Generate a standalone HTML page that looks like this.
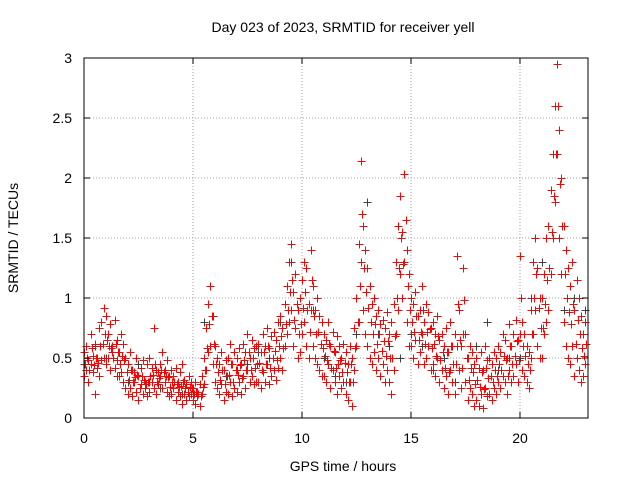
<!DOCTYPE html>
<html><head><meta charset="utf-8"><style>
html,body{margin:0;padding:0;background:#fff}
svg{display:block;font-family:"Liberation Sans",sans-serif}
</style></head><body>
<svg id="chart" width="640" height="480">
<rect x="0" y="0" width="640" height="480" fill="#fff"/>
<g id="grid"></g>
<g id="marks"></g>
<rect x="84" y="58" width="504" height="360" fill="none" stroke="#000" stroke-width="1"/>
<g id="axes"></g>
<text x="343" y="32" font-size="14" text-anchor="middle">Day 023 of 2023, SRMTID for receiver yell</text>
<text x="343" y="471" font-size="14" text-anchor="middle">GPS time / hours</text>
<text x="18" y="238" font-size="14" text-anchor="middle" transform="rotate(-90 18 238)">SRMTID / TECUs</text>
</svg>
<script>
const xTicks=[0,5,10,15,20];
const yTicks=[0,0.5,1,1.5,2,2.5,3];
const yTickLabels=["0","0.5","1","1.5","2","2.5","3"];
const redStep=0.1;
const redA=[.55,.6,.48,.7,.52,.62,.5,.75,.8,.92,.85,.7,.78,.6,.82,.65,.55,.7,.62,.5,.45,.55,.4,.38,.5,.35,.42,.48,.3,.45,.5,.42,.75,.4,.38,.45,.55,.4,.48,.35,.4,.35,.42,.3,.38,.45,.32,.28,.35,.3,.25,.3,.22,.28,.35,.5,.75,.95,1.1,.85,.6,.5,.45,.55,.4,.48,.5,.62,.45,.55,.5,.58,.45,.62,.55,.7,.5,.65,.58,.6,.62,.55,.7,.6,.75,.58,.68,.72,.65,.8,.85,.75,.95,1.1,1.3,1.45,1.05,1.2,.9,1.0,1.15,1.3,1.25,.95,1.4,1.1,.9,1.0,.85,.8,.7,.65,.8,.6,.72,.55,.68,.6,.5,.62,.55,.45,.6,.5,.75,1.0,1.45,2.14,1.6,1.4,1.25,1.1,.95,1.0,.85,.9,.78,.82,.75,.88,.7,.8,.95,1.3,1.6,1.85,1.55,2.03,1.4,1.2,1.0,.95,1.05,.85,.9,1.1,.8,.95,.88,.75,.8,.7,.85,.65,.7,.6,.75,.55,.8,.6,.7,1.35,.9,.6,1.25,.7,.5,.6,.55,.45,.5,.42,.55,.4,.6,.48,.5,.45,.55,.5,.6,.55,.7,.65,.5,.78,.6,.7,.82,.65,1.35,.8,.7,.6,.55,.9,1.3,1.5,1.25,1.0,1.0,1.2,1.5,1.6,1.9,2.2,2.6,2.95,2.4,2.0,1.6,1.4,1.25,1.1,1.3,.9,1.15,1.0,.85,.7,.8];
const redB=[.35,.4,.3,.45,.38,.2,.42,.35,.48,.5,.45,.5,.4,.55,.42,.48,.35,.38,.3,.25,.2,.25,.18,.3,.22,.15,.28,.2,.25,.18,.22,.3,.25,.2,.28,.35,.25,.3,.22,.18,.2,.25,.15,.22,.18,.12,.2,.15,.18,.2,.15,.12,.18,.1,.2,.28,.4,.55,.6,.45,.3,.25,.2,.28,.15,.22,.2,.3,.18,.25,.22,.3,.2,.35,.25,.4,.3,.35,.28,.3,.3,.25,.38,.3,.45,.28,.35,.4,.32,.42,.5,.4,.6,.7,.8,.9,.6,.75,.5,.55,.7,.8,.6,.5,.9,.6,.5,.45,.4,.35,.35,.3,.45,.25,.4,.3,.2,.35,.25,.3,.2,.15,.3,.1,.4,.6,.8,1.3,.9,.7,.6,.5,.45,.55,.4,.5,.35,.45,.3,.4,.3,.2,.4,.7,.9,1.2,1.0,1.3,.8,.6,.6,.5,.65,.45,.55,.7,.45,.5,.6,.4,.45,.35,.5,.3,.4,.25,.35,.2,.4,.3,.2,.6,.4,.25,.7,.3,.15,.25,.2,.1,.15,.1,.2,.08,.25,.18,.2,.15,.25,.2,.3,.25,.35,.3,.2,.4,.3,.35,.45,.3,.7,.4,.35,.3,.25,.5,.7,.9,.6,.5,.5,.7,.8,.9,1.2,1.5,1.8,2.2,1.5,1.2,.8,.6,.5,.45,.6,.35,.5,.4,.3,.35,.45];
const redCStep=0.1;
const redC=[.45,.5,.4,.58,.44,.5,.46,.6,.62,.7,.65,.6,.58,.5,.62,.55,.45,.52,.48,.38,.32,.4,.3,.34,.36,.25,.35,.32,.28,.3,.35,.36,.45,.3,.33,.4,.38,.35,.34,.26,.3,.3,.28,.26,.27,.3,.25,.22,.26,.25,.2,.22,.2,.18,.26,.4,.58,.78,.85,.62,.45,.38,.32,.4,.28,.35,.36,.45,.3,.4,.36,.44,.33,.48,.4,.55,.4,.5,.42,.45,.46,.4,.55,.45,.6,.42,.5,.56,.48,.6,.68,.58,.78,.9,1.05,1.15,.82,.95,.7,.78,.92,1.05,.9,.72,1.15,.85,.7,.72,.62,.58,.52,.48,.62,.42,.56,.42,.45,.48,.38,.46,.38,.3,.45,.3,.58,.8,1.1,1.7,1.25,1.05,.92,.8,.7,.78,.62,.7,.56,.64,.52,.64,.5,.5,.68,1.0,1.25,1.5,1.28,1.65,1.1,.9,.8,.72,.85,.65,.72,.9,.62,.72,.74,.58,.62,.52,.68,.48,.55,.42,.55,.38,.6,.45,.45,.95,.65,.42,.98,.5,.32,.42,.38,.28,.32,.26,.38,.24,.42,.33,.35,.3,.4,.35,.45,.4,.52,.48,.35,.6,.45,.52,.64,.48,1.0,.6,.52,.45,.4,.7,1.0,1.2,.92,.75,.75,.95,1.15,1.25,1.55,1.85,2.2,2.6,1.95,1.6,1.2,1.0,.88,.78,.95,.62,.82,.7,.58,.52,.62];
const blackStep=0.5;
const black=[.45,.6,.5,.35,.3,.45,.3,.25,.2,.2,.2,.8,.3,.35,.4,.45,.55,.5,.8,1.3,.7,.9,.5,.35,.3,.7,1.8,.7,.6,.5,.7,.6,.4,.5,.3,.3,.6,.8,.4,.5,.5,1.0,1.3,2.2,.9,1.0,.9];

const NS="http://www.w3.org/2000/svg";
const X0=84,X1=588,Y0=418,Y1=58,XMAX=23.12,YMAX=3;
function xs(v){return X0+v*(X1-X0)/XMAX;}
function ys(v){return Y0-v*(Y0-Y1)/YMAX;}
const grid=document.getElementById('grid'),axes=document.getElementById('axes'),marks=document.getElementById('marks');
function mk(tag,attrs,parent){const e=document.createElementNS(NS,tag);for(const k in attrs)e.setAttribute(k,attrs[k]);parent.appendChild(e);return e;}
xTicks.forEach(t=>{
  const x=xs(t);
  if(t>0){const g=mk('line',{x1:x,y1:Y0,x2:x,y2:Y1,stroke:'#a0a0a0','stroke-dasharray':'1,2'},grid);
  
  }
  mk('line',{x1:x,y1:Y0,x2:x,y2:Y0-6,stroke:'#000'},axes);
  mk('line',{x1:x,y1:Y1,x2:x,y2:Y1+6,stroke:'#000'},axes);
  const tx=mk('text',{x:x,y:443,'font-size':14,'text-anchor':'middle'},axes);
  tx.textContent=String(t);
  
  
});
yTicks.forEach((t,i)=>{
  const y=ys(t);
  if(t>0&&t<3){const g=mk('line',{x1:X0,y1:y,x2:X1,y2:y,stroke:'#a0a0a0','stroke-dasharray':'1,2'},grid);
  
  }
  mk('line',{x1:X0,y1:y,x2:X0+6,y2:y,stroke:'#000'},axes);
  mk('line',{x1:X1,y1:y,x2:X1-6,y2:y,stroke:'#000'},axes);
  const tx=mk('text',{x:72,y:y+5,'font-size':14,'text-anchor':'end'},axes);
  tx.textContent=yTickLabels[i];
  
  
});
function plus(t,v,color,name){
  const x=Math.round(xs(t))+0.5,y=Math.round(ys(v))+0.5;
  const p=mk('path',{d:`M${x-4},${y}h8M${x},${y-4}v8`,stroke:color,'stroke-width':1,fill:'none'},marks);
  
  
}
black.forEach((v,i)=>plus(i*blackStep,v,'#404040','black-point'));
redA.forEach((v,i)=>plus(i*redStep,v,'#ff0000','red-point'));
redB.forEach((v,i)=>plus(i*redStep,v,'#ff0000','red-point'));
redC.forEach((v,i)=>plus(i*redCStep+0.05,v,'#ff0000','red-point'));
</script>
</body></html>
